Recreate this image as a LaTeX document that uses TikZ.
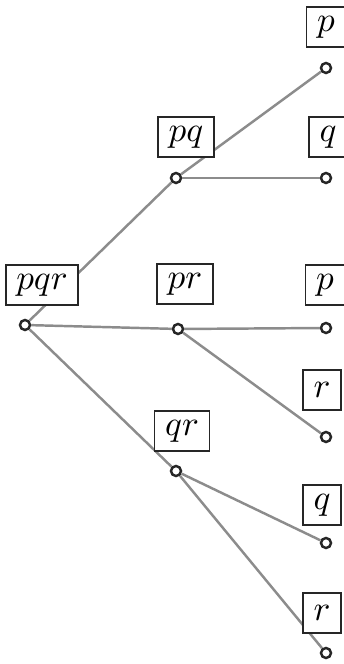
\documentclass[tikz,border=0pt]{standalone}
\usepackage{amsfonts, amsmath, amssymb}
\usepackage{tikz}

\tikzset{
	knot/.style={circle, draw=black!85, line width=0.7pt, inner sep=0pt, minimum size=0.1cm},
	tag/.style={draw=black!85, line width=0.5pt, fill=white, inner xsep=3pt, inner ysep=0pt, minimum height=0.4cm},
	branch/.style={draw=black!45, line width=0.7pt}
}

\begin{document}
\begin{tikzpicture}
	\useasboundingbox (0,0) rectangle (3.44,6.64);
	
	\node[knot] (a) at (0.25,3.39) {};
	\node[knot] (b) at (1.76,4.86) {}; \node[knot] (c) at (1.78,3.35) {}; \node[knot] (d) at (1.76,1.93) {};
	\node[knot] (b1) at (3.26,5.96) {}; \node[knot] (b2) at (3.26,4.86) {};
	\node[knot] (c1) at (3.26,3.36) {}; \node[knot] (c2) at (3.26,2.27) {};
	\node[knot] (d1) at (3.26,1.21) {}; \node[knot] (d2) at (3.26,0.11) {};
	
	\draw[branch] (a)--(b); \draw[branch] (a)--(c); \draw[branch] (a)--(d);
	\draw[branch] (b)--(b1); \draw[branch] (b)--(b2);
	\draw[branch] (c)--(c1); \draw[branch] (c)--(c2);
	\draw[branch] (d)--(d1); \draw[branch] (d)--(d2);
	
	\node[tag] (ta) at (0.42,3.79) {$pqr$};
	\node[tag] (tb) at (1.86,5.27) {$pq$}; \node[tag] (tc) at (1.85,3.80) {$pr$}; \node[tag] (td) at (1.82,2.33) {$qr$};
	\node[tag] (tb1) at (3.26,6.37) {$p$}; \node[tag] (tb2) at (3.28,5.27) {$q$};
	\node[tag] (tc1) at (3.25,3.79) {$p$}; \node[tag] (tc2) at (3.22,2.74) {$r$};
	\node[tag] (td1) at (3.22,1.59) {$q$}; \node[tag] (td2) at (3.22,0.51) {$r$};
\end{tikzpicture}
\end{document}
